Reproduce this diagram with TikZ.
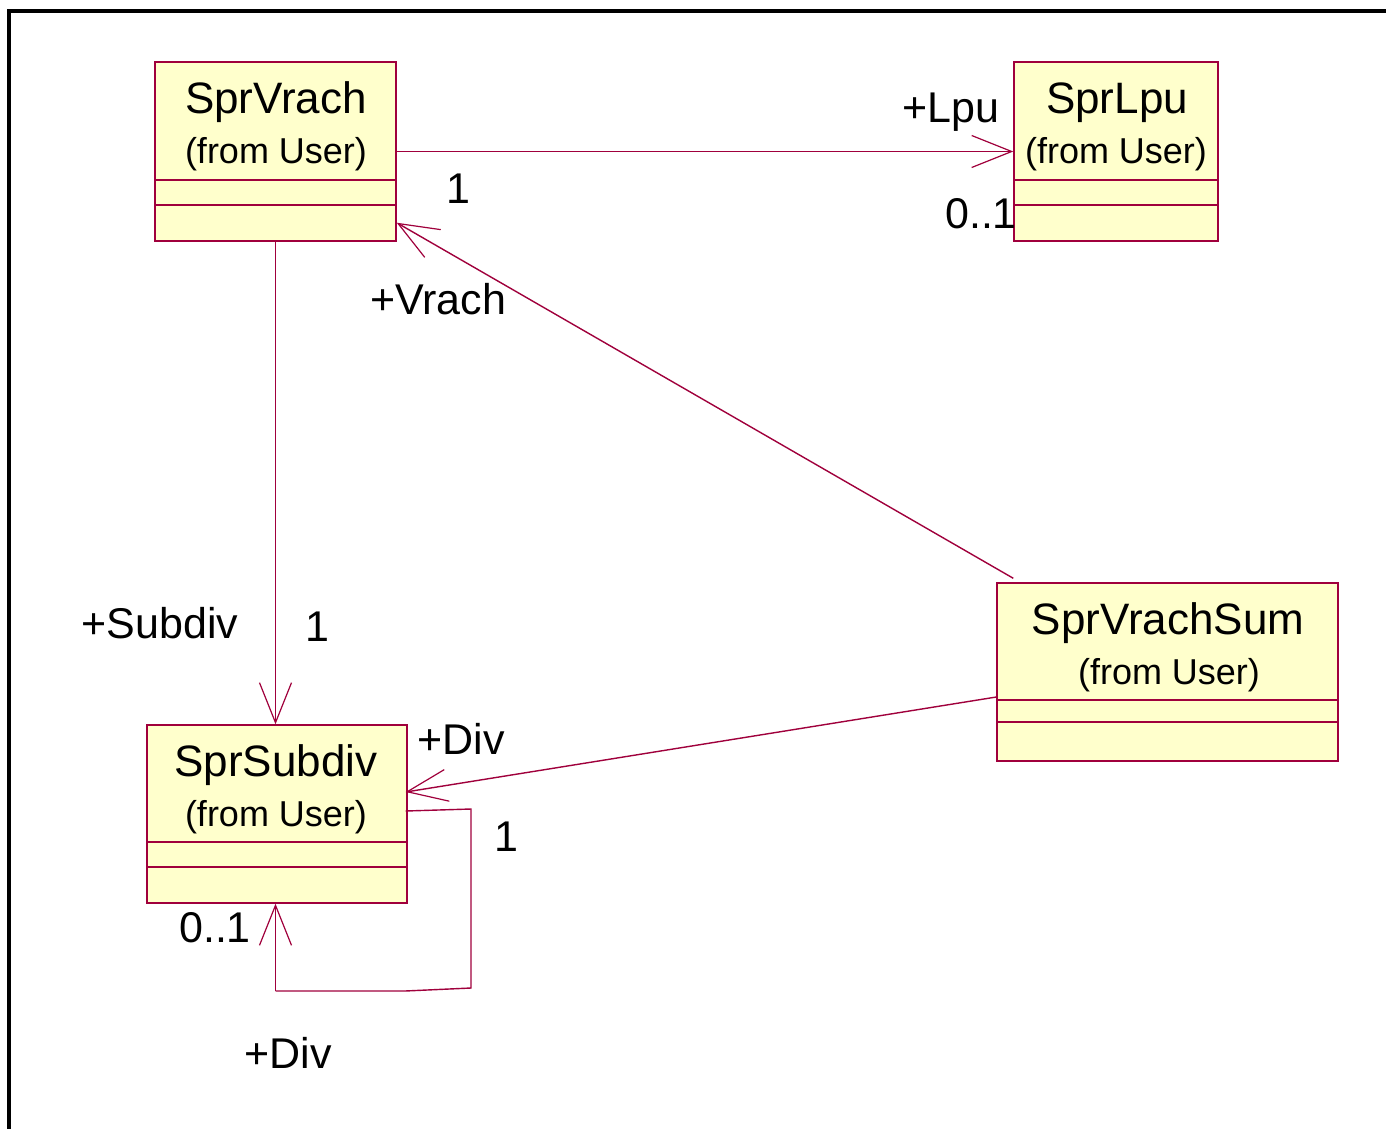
\documentclass[tikz,border=0pt]{standalone}
\usepackage{fontspec}
\setmainfont{Liberation Sans}
\usetikzlibrary{arrows.meta,calc}
\definecolor{umlred}{RGB}{160,0,60}
\definecolor{umlfill}{RGB}{255,255,204}
\tikzset{
  cls/.style={draw=umlred, fill=umlfill, line width=1.4pt, inner sep=0pt},
  sep/.style={draw=umlred, line width=1.4pt},
  assoc/.style={draw=umlred, line width=1.4pt, -{Straight Barb[length=40pt,width=32pt,line width=1.2pt]}},
  plain/.style={draw=umlred, line width=1.4pt},
  cname/.style={anchor=base, inner sep=0pt, font=\fontsize{44}{50}\selectfont},
  cfrom/.style={anchor=base, inner sep=0pt, font=\fontsize{36}{42}\selectfont},
  lbl/.style={anchor=base, inner sep=0pt, font=\fontsize{43}{50}\selectfont},
}
\begin{document}
\begin{tikzpicture}[x=1pt,y=1pt]
\useasboundingbox (0,0) rectangle (1386,-1128);
\clip (0,0) rectangle (1386,-1128);
\fill[white] (0,0) rectangle (1386,-1128);
% frame
\draw[line width=4.5pt] (9,-1140) -- (9,-11) -- (1400,-11);

% classes
\node[cls, minimum width=241pt, minimum height=179pt] (vr) at (275.5,-151.5) {};
\draw[sep] (155,-180) -- (396,-180);
\draw[sep] (155,-205) -- (396,-205);
\node[cname] (vrn) at (276,-113) {SprVrach};
\node[cfrom] (vrf) at (276,-163) {(from User)};

\node[cls, minimum width=204pt, minimum height=179pt] (lpu) at (1116,-151.5) {};
\draw[sep] (1014,-180) -- (1218,-180);
\draw[sep] (1014,-205) -- (1218,-205);
\node[cname] (lpun) at (1117,-113) {SprLpu};
\node[cfrom] (lpuf) at (1116,-163) {(from User)};

\node[cls, minimum width=341pt, minimum height=178pt] (sum) at (1167.5,-672) {};
\draw[sep] (997,-700) -- (1338,-700);
\draw[sep] (997,-722) -- (1338,-722);
\node[cname] (sumn) at (1168,-634) {SprVrachSum};
\node[cfrom] (sumf) at (1169,-684) {(from User)};

\node[cls, minimum width=260pt, minimum height=178pt] (sd) at (277,-814) {};
\draw[sep] (147,-842) -- (407,-842);
\draw[sep] (147,-867) -- (407,-867);
\node[cname] (sdn) at (276,-776) {SprSubdiv};
\node[cfrom] (sdf) at (276,-826) {(from User)};

% connectors
\draw[assoc] (vr.east) -- (lpu.west);
\draw[assoc] (vr.south) -- (vr.south |- sd.north);
\draw[assoc] ($(sum.north west)+(17,4)$) -- ($(vr.south east)+(0,19)$);
\draw[assoc] ($(sum.west)+(0,-25)$) -- ($(sd.east)+(-2,22)$);
\coordinate (l1) at (471,-809);
\coordinate (l2) at (471,-988);
\coordinate (l3) at (405,-991);
\coordinate (l4) at (275.5,-991);
\draw[plain] ($(sd.east)+(-2,3)$) -- (l1) -- (l2) -- (l3) -- (l4);
\draw[assoc] (l4) -- (sd.south -| l4);

% labels
\node[lbl] (t1) at (951,-122) {+Lpu};
\node[lbl] (t2) at (458,-203) {1};
\node[lbl] (t3) at (981,-228) {0..1};
\node[lbl] (t4) at (438,-314) {+Vrach};
\node[lbl] (t5) at (160,-638) {+Subdiv};
\node[lbl] (t6) at (317,-641) {1};
\node[lbl] (t7) at (461,-754) {+Div};
\node[lbl] (t8) at (506,-851) {1};
\node[lbl] (t9) at (215,-942) {0..1};
\node[lbl] (t10) at (288,-1068) {+Div};
\end{tikzpicture}
\end{document}
